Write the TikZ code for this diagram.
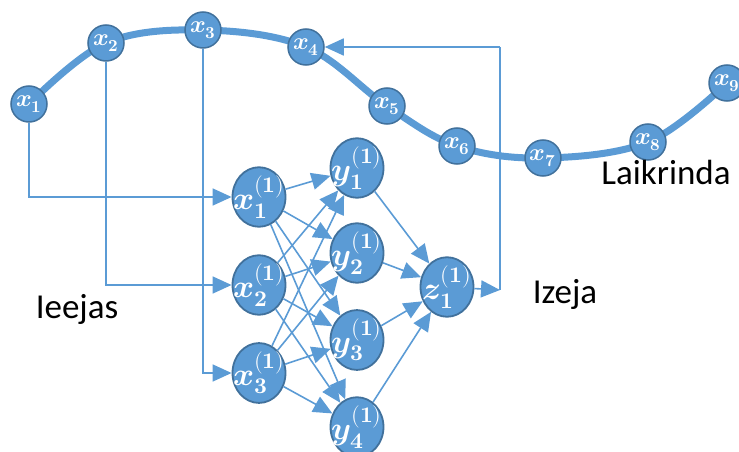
\documentclass[tikz,border=0pt]{standalone}
\usepackage{fontspec}
\usepackage{unicode-math}
\setmathfont{Latin Modern Math}
\usetikzlibrary{arrows.meta,shapes.geometric}
\newfontfamily\labelfont{Carlito}
\definecolor{nodeblue}{HTML}{5B9BD5}
\definecolor{edgeblue}{HTML}{41719C}
% labels set in zero-width boxes so the shapes keep their fixed sizes
\newcommand{\smallvar}[2]{\makebox[0pt]{$\symbfit{#1}_{\symbf{#2}}$}}
\newcommand{\layervar}[2]{\makebox[0pt]{$\symbfit{#1}^{\symbf{(1)}}_{\symbf{#2}}$}}
\begin{document}
\begin{tikzpicture}[x=1pt,y=-1pt,
  smallnode/.style={circle,fill=nodeblue,draw=edgeblue,line width=1.5pt,
    minimum size=36pt,inner sep=0pt,text=white,font=\fontsize{24}{26}\selectfont},
  bignode/.style={ellipse,fill=nodeblue,draw=edgeblue,line width=1.8pt,
    minimum width=53pt,minimum height=58pt,inner sep=0pt,text=white,
    font=\fontsize{32}{34}\selectfont},
  curveline/.style={draw=nodeblue,line width=7pt,line cap=round},
  link/.style={draw=nodeblue,line width=1.6pt,
    -{Triangle[length=19pt,width=17pt]}},
  plain/.style={draw=nodeblue,line width=1.6pt},
  caption/.style={font=\labelfont\fontsize{35}{40}\selectfont,text=black,inner sep=0pt,anchor=base}]
\useasboundingbox (0,0) rectangle (739,452);

% time series curve
\draw[curveline] plot[smooth,tension=0.6] coordinates
  {(29,104) (106,43) (203,30) (306,47) (387,106) (457,146) (543,158) (648,142) (727,83)};

% time series samples
\node[smallnode] (s1) at (29,104) {\smallvar{x}{1}};
\node[smallnode] (s2) at (106,43) {\smallvar{x}{2}};
\node[smallnode] (s3) at (203,30) {\smallvar{x}{3}};
\node[smallnode] (s4) at (306,47) {\smallvar{x}{4}};
\node[smallnode] (s5) at (387,106) {\smallvar{x}{5}};
\node[smallnode] (s6) at (457,146) {\smallvar{x}{6}};
\node[smallnode] (s7) at (543,158) {\smallvar{x}{7}};
\node[smallnode] (s8) at (648,142) {\smallvar{x}{8}};
\node[smallnode] (s9) at (727,83) {\smallvar{x}{9}};

% network layers
\node[bignode] (i1) at (259,197) {\layervar{x}{1}};
\node[bignode] (i2) at (259,285) {\layervar{x}{2}};
\node[bignode] (i3) at (259,373) {\layervar{x}{3}};
\node[bignode] (h1) at (357,168) {\layervar{y}{1}};
\node[bignode] (h2) at (357,253) {\layervar{y}{2}};
\node[bignode] (h3) at (357,340) {\layervar{y}{3}};
\node[bignode] (h4) at (357,427) {\layervar{y}{4}};
\node[bignode] (o1) at (447,287) {\layervar{z}{1}};

% inputs taken from the series
\draw[link] (s1) |- (i1);
\draw[link] (s2) |- (i2);
\draw[link] (s3) |- (i3);

% fully connected layers
\foreach \i in {1,2,3}
  \foreach \j in {1,2,3,4}
    \draw[link] (i\i) -- (h\j);
\foreach \j in {1,2,3,4}
  \draw[link] (h\j) -- (o1);

% output fed back into the series
\coordinate (out) at (500,290);
\coordinate (top) at (500,47);
\draw[link] (o1) -- (out);
\draw[plain] (out) -- (top);
\draw[link] (top) -- (s4);

% captions
\node[caption] (lk) at (666,184) {Laikrinda};
\node[caption] (ie) at (77,318) {Ieejas};
\node[caption] (iz) at (565,303) {Izeja};
\end{tikzpicture}
\end{document}
